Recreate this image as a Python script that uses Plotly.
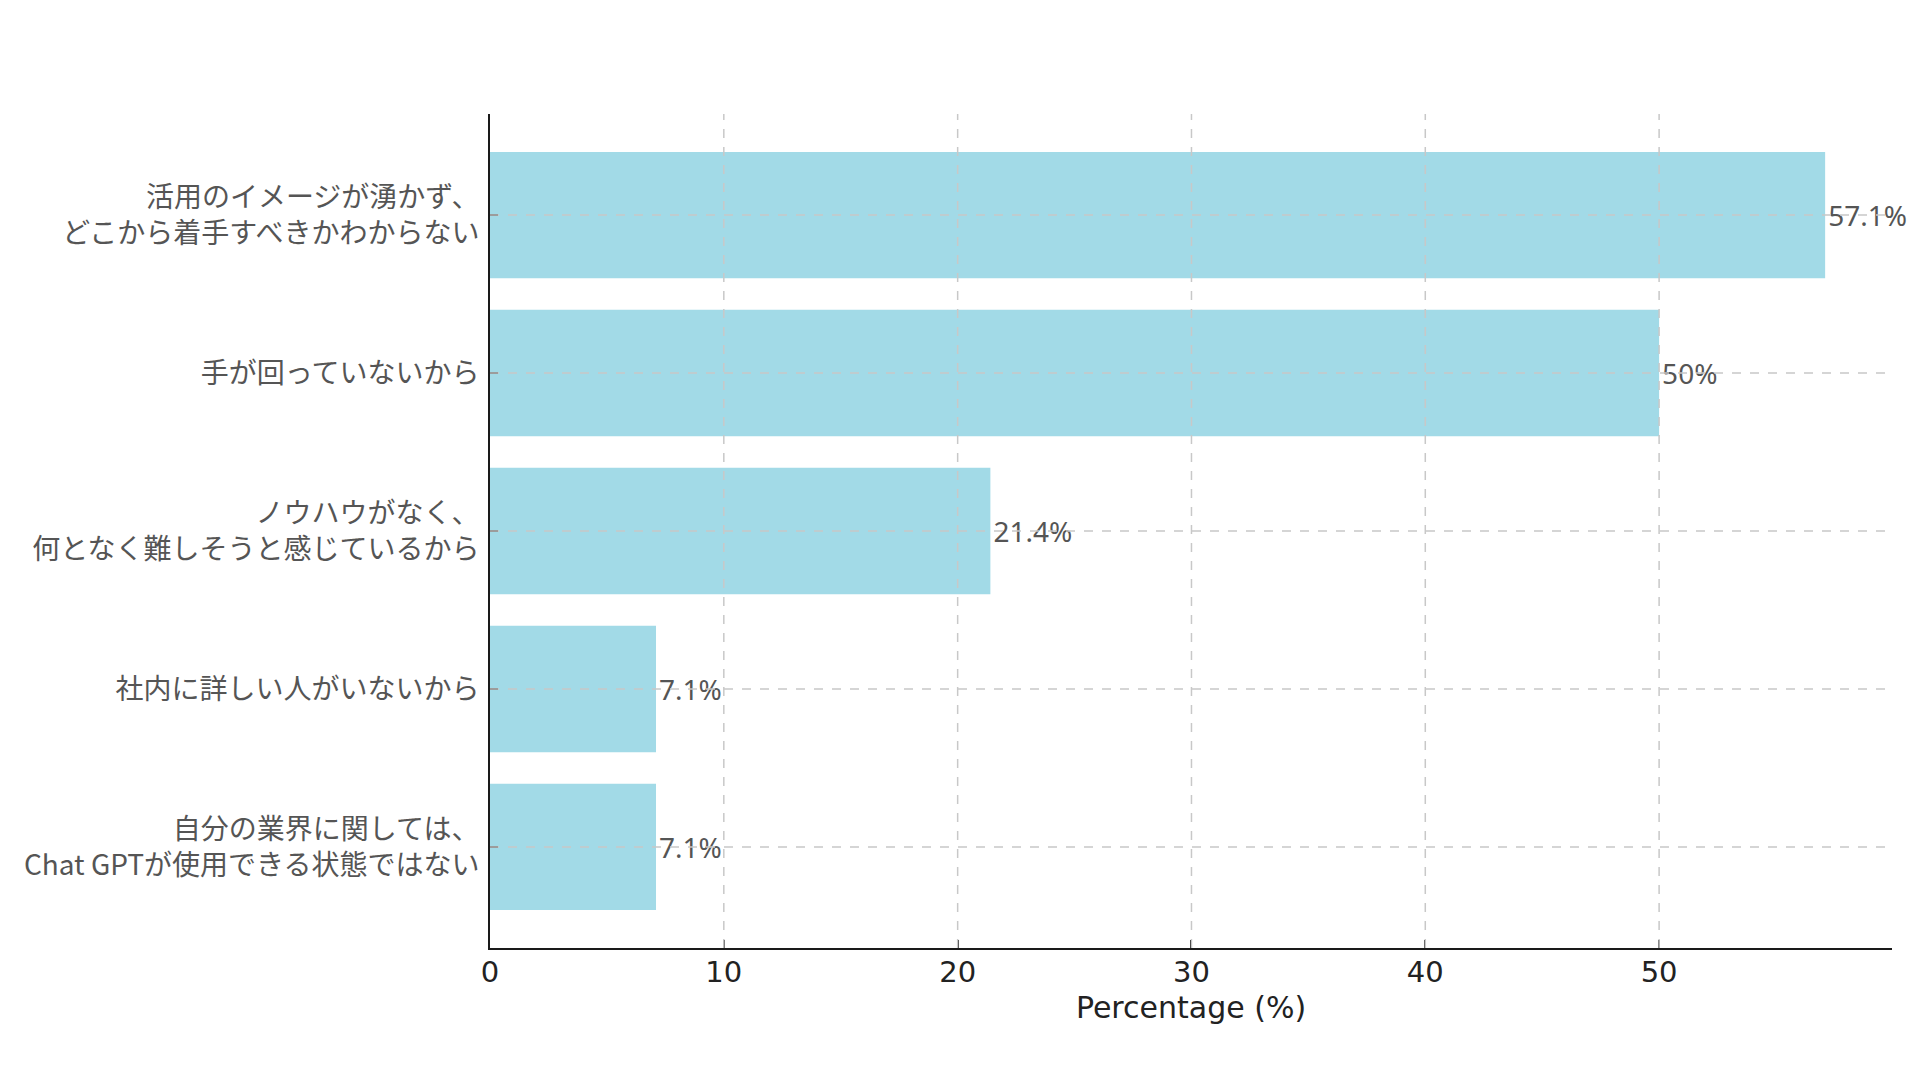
import plotly.graph_objects as go

categories = [
    "活用のイメージが湧かず、<br>どこから着手すべきかわからない",
    "手が回っていないから",
    "ノウハウがなく、<br>何となく難しそうと感じているから",
    "社内に詳しい人がいないから",
    "自分の業界に関しては、<br>Chat GPTが使用できる状態ではない",
]
values = [57.1, 50, 21.4, 7.1, 7.1]
x_ticks = [0, 10, 20, 30, 40, 50]
labels = [f"{v:g}%" for v in values]

fig = go.Figure()
fig.add_trace(go.Bar(
    x=values, y=categories, orientation="h",
    marker=dict(color="#A2DAE7", line=dict(width=0)),
    width=0.8,
    text=labels, textposition="outside",
    textfont=dict(family="Noto Sans, Noto Sans CJK JP", size=28, color="#555555"),
    cliponaxis=False,
))

grid_style = dict(color="#c8c8c8", width=1.5, dash="dash")
for t in x_ticks[1:]:
    fig.add_shape(type="line", xref="x", yref="paper", x0=t, x1=t, y0=0, y1=1,
                  line=grid_style, layer="above")
for c in categories:
    fig.add_shape(type="line", xref="paper", yref="y", x0=0, x1=1, y0=c, y1=c,
                  line=grid_style, layer="above")

fig.update_layout(
    width=1904, height=1064,
    paper_bgcolor="white", plot_bgcolor="white",
    margin=dict(l=482, r=20, t=106, b=124),
    showlegend=False,
    bargap=0.2,
)
fig.update_xaxes(
    range=[0, 59.96], tickvals=x_ticks, ticktext=[str(t) for t in x_ticks],
    showgrid=False, zeroline=False,
    showline=True, linecolor="#1a1a1a", linewidth=2,
    ticks="inside", ticklen=8, tickwidth=2, tickcolor="#1a1a1a",
    tickfont=dict(family="DejaVu Sans", size=29, color="#222222"),
    ticklabelstandoff=-3,
    title=dict(text="Percentage (%)", font=dict(family="DejaVu Sans", size=30, color="#222222"), standoff=9),
)
fig.update_yaxes(
    categoryorder="array", categoryarray=categories,
    range=[4.64, -0.64],
    showgrid=False, zeroline=False,
    showline=True, linecolor="#1a1a1a", linewidth=2,
    ticks="inside", ticklen=8, tickwidth=2, tickcolor="#1a1a1a",
    tickfont=dict(family="Noto Sans CJK JP", size=28, color="#555555"),
    ticklabelstandoff=3,
)

fig.write_html("out.html")
